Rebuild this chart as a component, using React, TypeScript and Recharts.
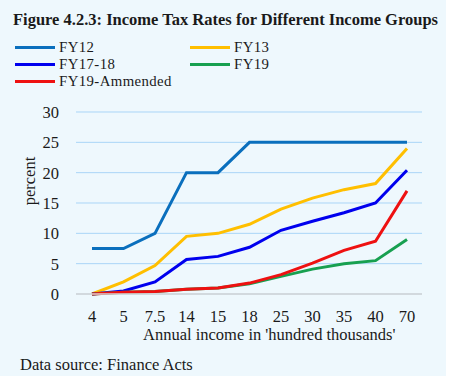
import { LineChart, Line, XAxis, YAxis, CartesianGrid } from "recharts";

const incomeGroups = ["4", "5", "7.5", "14", "15", "18", "25", "30", "35", "40", "70"];
const fy12 = [7.5, 7.5, 10, 20, 20, 25, 25, 25, 25, 25, 25];
const fy13 = [0, 2, 4.7, 9.5, 10, 11.5, 14, 15.8, 17.2, 18.2, 24];
const fy1718 = [0, 0.5, 2, 5.7, 6.2, 7.7, 10.5, 12, 13.4, 15, 20.4];
const fy19 = [0, 0.3, 0.4, 0.8, 1, 1.7, 2.9, 4.1, 5, 5.5, 9];
const fy19Amended = [0, 0.3, 0.4, 0.8, 1, 1.8, 3.2, 5.1, 7.2, 8.7, 17];
const yTicks = [0, 5, 10, 15, 20, 25, 30];

const data = incomeGroups.map((g, i) => ({
  group: g,
  fy12: fy12[i],
  fy13: fy13[i],
  fy1718: fy1718[i],
  fy19: fy19[i],
  fy19a: fy19Amended[i],
}));

const SERIES = [
  { key: "fy12", name: "FY12", color: "#0a6fbd" },
  { key: "fy13", name: "FY13", color: "#ffbf00" },
  { key: "fy1718", name: "FY17-18", color: "#0000ee" },
  { key: "fy19", name: "FY19", color: "#17a050" },
  { key: "fy19a", name: "FY19-Ammended", color: "#ee1111" },
];

const FONT = "'Liberation Serif', 'Times New Roman', serif";
const FS = 16.5;
const TICK = { fill: "#1a1a1a", fontSize: FS, fontFamily: FONT };

// legend entries laid out like the original two-column block
const LEGEND_POS: Record<string, { x: number; y: number }> = {
  fy12: { x: 15, y: 47 },
  fy13: { x: 190, y: 47 },
  fy1718: { x: 15, y: 64 },
  fy19: { x: 190, y: 64 },
  fy19a: { x: 15, y: 81 },
};

const text = (extra: React.CSSProperties): React.CSSProperties => ({
  position: "absolute",
  fontFamily: FONT,
  fontSize: FS,
  color: "#1a1a1a",
  whiteSpace: "nowrap",
  lineHeight: "18px",
  ...extra,
});

export default function App() {
  return (
    <div style={{ position: "fixed", left: 0, top: 0, width: 450, height: 376, background: "#fff" }}>
      <div style={{ position: "absolute", left: 0, top: 0, width: 446, height: 376, background: "#eef8fd" }}>
        <LineChart
          width={446}
          height={376}
          data={data}
          margin={{ top: 112, right: 24, bottom: 52, left: 36 }}
        >
          <CartesianGrid horizontal vertical={false} stroke="#a9d5f7" />
          <XAxis
            dataKey="group"
            tick={TICK}
            tickLine={false}
            axisLine={{ stroke: "#d4d4d4", strokeWidth: 1.5 }}
            tickMargin={10}
            height={30}
            interval={0}
            padding={{ left: 16, right: 15 }}
          />
          <YAxis
            domain={[0, 30]}
            ticks={yTicks}
            tick={TICK}
            tickLine={false}
            axisLine={false}
            tickMargin={11}
            width={40}
          />
          {SERIES.map((s) => (
            <Line
              key={s.key}
              type="linear"
              dataKey={s.key}
              name={s.name}
              stroke={s.color}
              strokeWidth={3}
              dot={false}
              isAnimationActive={false}
            />
          ))}
        </LineChart>

        <div style={text({ left: 13, top: 11, fontWeight: 700 })}>
          Figure 4.2.3: Income Tax Rates for Different Income Groups
        </div>

        {SERIES.map((s) => {
          const p = LEGEND_POS[s.key];
          return (
            <div key={s.key} style={{ position: "absolute", left: p.x, top: p.y - 8, height: 16, display: "flex", alignItems: "center" }}>
              <div style={{ width: 40, height: 3, background: s.color, marginRight: 4 }} />
              <span style={{ fontFamily: FONT, fontSize: 14.8, letterSpacing: 0.4, color: "#1a1a1a", lineHeight: "16px" }}>{s.name}</span>
            </div>
          );
        })}

        <div style={text({ left: 30, top: 181, transform: "translate(-50%, -50%) rotate(-90deg)" })}>percent</div>
        <div style={text({ left: 143, top: 326 })}>Annual income in 'hundred thousands'</div>
        <div style={text({ left: 20, top: 356 })}>Data source: Finance Acts</div>
      </div>
    </div>
  );
}
